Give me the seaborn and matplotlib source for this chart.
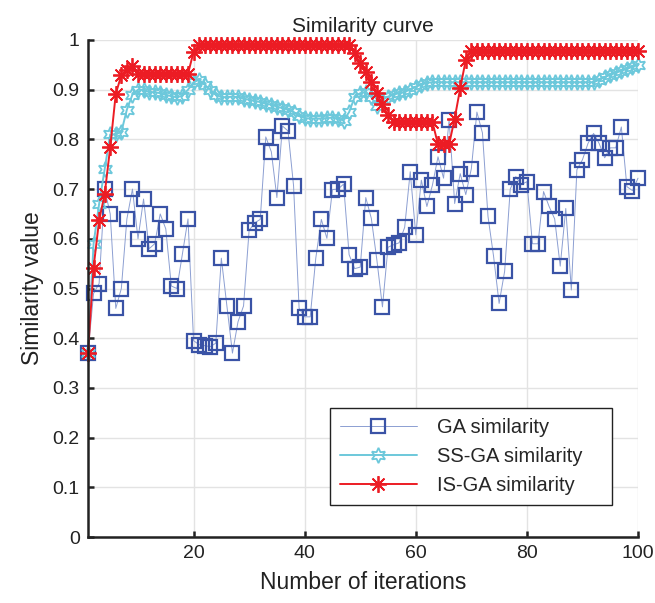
import numpy as np
import matplotlib
matplotlib.use("Agg")
import matplotlib.pyplot as plt
import seaborn as sns

# ── Data ──────────────────────────────────────────────────────────────
iterations = list(range(1, 101))

ga_similarity = [
    0.37, 0.49, 0.51, 0.70, 0.65, 0.46, 0.50, 0.64, 0.70, 0.60,
    0.68, 0.58, 0.59, 0.65, 0.62, 0.505, 0.50, 0.57, 0.64, 0.395,
    0.387, 0.385, 0.383, 0.39, 0.561, 0.465, 0.37, 0.433, 0.465, 0.617,
    0.632, 0.639, 0.805, 0.775, 0.683, 0.827, 0.817, 0.707, 0.46, 0.443,
    0.443, 0.561, 0.639, 0.601, 0.699, 0.70, 0.71, 0.568, 0.54, 0.543,
    0.683, 0.641, 0.557, 0.463, 0.583, 0.588, 0.592, 0.623, 0.735, 0.608,
    0.718, 0.665, 0.708, 0.765, 0.722, 0.839, 0.671, 0.731, 0.689, 0.741,
    0.855, 0.813, 0.645, 0.565, 0.47, 0.535, 0.70, 0.725, 0.709, 0.715,
    0.59, 0.59, 0.695, 0.665, 0.64, 0.545, 0.661, 0.497, 0.739, 0.759,
    0.792, 0.812, 0.792, 0.763, 0.783, 0.783, 0.825, 0.705, 0.697, 0.722,
]

ssga_similarity = [
    0.37, 0.59, 0.67, 0.74, 0.81, 0.81, 0.815, 0.86, 0.89, 0.90,
    0.90, 0.895, 0.895, 0.893, 0.89, 0.887, 0.885, 0.888, 0.90, 0.915,
    0.92, 0.91, 0.90, 0.89, 0.885, 0.885, 0.886, 0.885, 0.882, 0.88,
    0.878, 0.875, 0.872, 0.87, 0.866, 0.863, 0.86, 0.855, 0.848, 0.843,
    0.842, 0.842, 0.842, 0.843, 0.844, 0.842, 0.838, 0.855, 0.885, 0.893,
    0.896, 0.885, 0.868, 0.88, 0.886, 0.89, 0.893, 0.896, 0.90, 0.906,
    0.91, 0.914, 0.915, 0.915, 0.915, 0.915, 0.915, 0.915, 0.915, 0.915,
    0.915, 0.915, 0.915, 0.915, 0.915, 0.915, 0.915, 0.915, 0.915, 0.915,
    0.915, 0.915, 0.915, 0.915, 0.915, 0.915, 0.915, 0.915, 0.915, 0.915,
    0.915, 0.915, 0.92, 0.925, 0.93, 0.934, 0.938, 0.942, 0.946, 0.95,
]

isga_similarity = [
    0.37, 0.542, 0.637, 0.69, 0.784, 0.892, 0.929, 0.94, 0.948, 0.932,
    0.932, 0.932, 0.932, 0.932, 0.932, 0.932, 0.932, 0.932, 0.932, 0.976,
    0.99, 0.99, 0.99, 0.99, 0.99, 0.99, 0.99, 0.99, 0.99, 0.99,
    0.99, 0.99, 0.99, 0.99, 0.99, 0.99, 0.99, 0.99, 0.99, 0.99,
    0.99, 0.99, 0.99, 0.99, 0.99, 0.99, 0.99, 0.99, 0.973, 0.954,
    0.936, 0.916, 0.893, 0.871, 0.849, 0.835, 0.835, 0.835, 0.835, 0.835,
    0.835, 0.835, 0.835, 0.79, 0.79, 0.79, 0.842, 0.903, 0.96, 0.978,
    0.978, 0.978, 0.978, 0.978, 0.978, 0.978, 0.978, 0.978, 0.978, 0.978,
    0.978, 0.978, 0.978, 0.978, 0.978, 0.978, 0.978, 0.978, 0.978, 0.978,
    0.978, 0.978, 0.978, 0.978, 0.978, 0.978, 0.978, 0.978, 0.978, 0.978,
]

x_ticks = [20, 40, 60, 80, 100]
y_ticks = [0, 0.1, 0.2, 0.3, 0.4, 0.5, 0.6, 0.7, 0.8, 0.9, 1]
y_tick_labels = ["0", "0.1", "0.2", "0.3", "0.4", "0.5", "0.6", "0.7", "0.8", "0.9", "1"]

# ── Style ─────────────────────────────────────────────────────────────
sns.set_theme(style="whitegrid")
plt.rcParams["font.family"] = ["Liberation Sans", "DejaVu Sans"]

fig = plt.figure(figsize=(6.55, 6.03), dpi=100)
ax = fig.add_axes([88 / 655, 66 / 603, 550 / 655, 497 / 603])

sns.lineplot(x=iterations, y=ga_similarity, ax=ax, estimator=None,
             color="#8c9fd2", linewidth=0.7, marker="s", markersize=9.5,
             markerfacecolor="none", markeredgecolor="#3a53a6",
             markeredgewidth=1.6, label="GA similarity", clip_on=False)
sns.lineplot(x=iterations, y=ssga_similarity, ax=ax, estimator=None,
             color="#6cc8db", linewidth=1.4, marker=(6, 1, 0), markersize=11,
             markerfacecolor="none", markeredgecolor="#6cc8db",
             markeredgewidth=1.3, label="SS-GA similarity", clip_on=False)
sns.lineplot(x=iterations, y=isga_similarity, ax=ax, estimator=None,
             color="#ec1c24", linewidth=1.4, marker=(8, 2, 0), markersize=12,
             markerfacecolor="none", markeredgecolor="#ec1c24",
             markeredgewidth=1.3, label="IS-GA similarity", clip_on=False)

ax.set_xlim(1, 100)
ax.set_ylim(0, 1)
ax.set_xticks(x_ticks)
ax.set_yticks(y_ticks)
ax.set_yticklabels(y_tick_labels)

ax.grid(True, color="#e3e3e3", linewidth=1.0)
for side in ["top", "right"]:
    ax.spines[side].set_visible(False)
for side in ["left", "bottom"]:
    ax.spines[side].set_color("#222222")
    ax.spines[side].set_linewidth(1.8)
ax.tick_params(axis="both", direction="in", length=4.5, width=1.8,
               colors="#222222", labelsize=14, pad=6,
               bottom=True, left=True)
ax.set_facecolor("white")

ax.set_title("Similarity curve", fontsize=15, pad=6, color="#222222")
ax.set_xlabel("Number of iterations", fontsize=16.5, color="#222222", labelpad=6)
ax.set_ylabel("Similarity value", fontsize=16.5, color="#222222", labelpad=6)

leg = ax.legend(loc="lower left", bbox_to_anchor=(0.44, 0.064, 0.513, 0.2),
                mode="expand", borderaxespad=0, fontsize=14.5,
                handlelength=3.8, handletextpad=1.0,
                fancybox=False, framealpha=1, edgecolor="#222222",
                borderpad=0.5, labelspacing=0.5)
leg.get_frame().set_linewidth(1.0)

fig.savefig("out.png", dpi=100)
plt.close(fig)
